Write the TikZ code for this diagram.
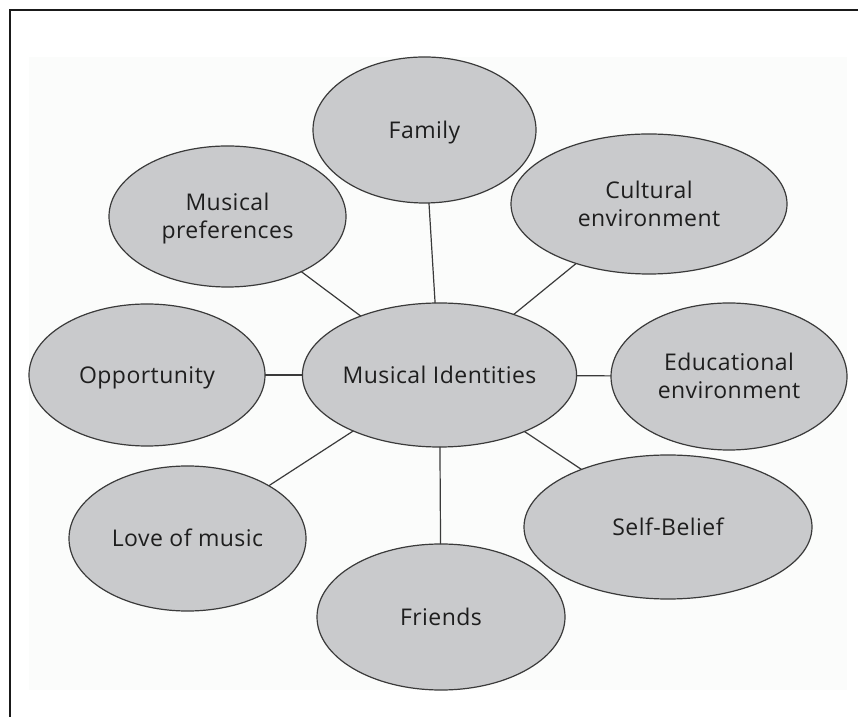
\documentclass[tikz,border=0pt]{standalone}
\usepackage{fontspec}
\setmainfont{Open Sans}[LetterSpace=2]
\usetikzlibrary{shapes.geometric}
\definecolor{panelbg}{HTML}{FBFCFB}
\definecolor{ellfill}{HTML}{C9CACC}
\definecolor{ellline}{HTML}{3A3A3A}
\definecolor{txt}{HTML}{1E1E1E}
\definecolor{frameline}{HTML}{1A1A1A}
\tikzset{
  bubble/.style={ellipse, draw=ellline, fill=ellfill, line width=1.2pt,
    inner sep=0pt, outer sep=0pt, text=txt, align=center,
    font=\fontsize{23}{28}\selectfont},
  oneline/.style={text height=16.4pt, text depth=0pt},
  twoline/.style={text height=44.4pt, text depth=0pt},
  link/.style={draw=ellline, line width=1.2pt}
}
\begin{document}
\begin{tikzpicture}[x=1pt,y=1pt]
\useasboundingbox (0,0) rectangle (858,717);
\fill[white] (0,0) rectangle (858,717);
\fill[panelbg] (29,27) rectangle (847,660);
\draw[frameline, line width=2pt] (858,706.5) -- (9.5,706.5) -- (9.5,0);
% nodes
\node[bubble, oneline, minimum width=261pt, minimum height=144pt] (mi) at (439.5,342) {Musical Identities};
\node[bubble, oneline, minimum width=223pt, minimum height=146pt] (fam) at (424.5,587) {Family};
\node[bubble, twoline, minimum width=237pt, minimum height=141pt] (mp) at (227.5,500.5) {Musical\\preferences};
\node[bubble, twoline, minimum width=276pt, minimum height=140pt] (ce) at (649,513) {Cultural\\environment};
\node[bubble, oneline, minimum width=236pt, minimum height=142pt] (opp) at (147,342) {Opportunity};
\node[bubble, twoline, minimum width=236pt, minimum height=147pt] (edu) at (729,340.5) {Educational\\environment};
\node[bubble, oneline, minimum width=237pt, minimum height=145pt] (love) at (187.5,178.5) {Love of music};
\node[bubble, oneline, minimum width=288pt, minimum height=144pt] (sb) at (668,190) {Self-Belief};
\node[bubble, oneline, minimum width=248pt, minimum height=146pt] (fr) at (441,100) {Friends};
% connectors
\foreach \n in {fam,mp,ce,opp,edu,love,sb,fr}{
  \draw[link] (mi) -- (\n);
}
\end{tikzpicture}
\end{document}
